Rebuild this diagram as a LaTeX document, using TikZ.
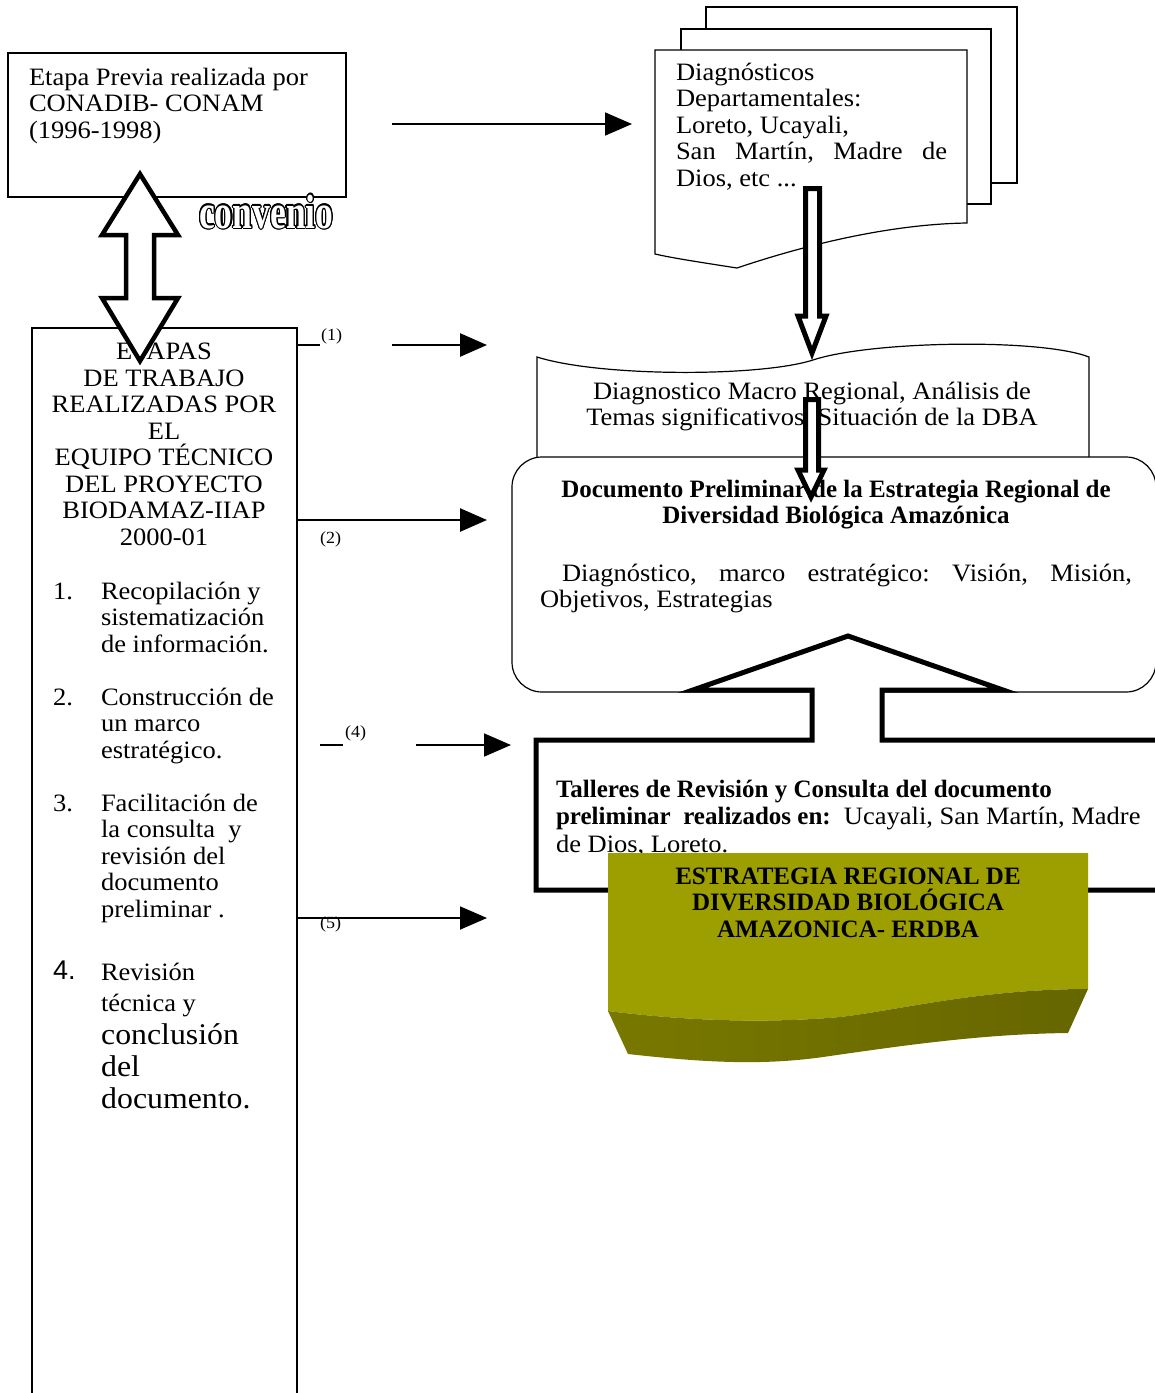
\documentclass[tikz,border=0pt]{standalone}
\usepackage{fontspec}
\setmainfont{Liberation Serif}[FakeStretch=1.06]
\newfontfamily\bfam{Liberation Serif}
\newfontfamily\sfam{Liberation Sans}
\newfontfamily\convfam{Liberation Serif}[FakeStretch=0.74]
\usepackage{contour}
\contourlength{1.2pt}
\usetikzlibrary{arrows.meta}
\definecolor{oliveface}{RGB}{157,159,0}
\definecolor{oliveleft}{RGB}{120,120,0}
\definecolor{olivemid}{RGB}{155,157,0}
\definecolor{oliveright}{RGB}{102,102,0}
\frenchspacing
\begin{document}
\frenchspacing
\begin{tikzpicture}[x=1pt,y=-1pt,
  txt/.style={inner sep=0pt, outer sep=0pt, font=\fontsize{25}{26.5}\selectfont},
  btxt/.style={inner sep=0pt, outer sep=0pt, font=\bfam\bfseries\fontsize{25}{26.5}\selectfont},
  lab/.style={inner sep=0pt, outer sep=0pt, font=\fontsize{17}{19}\selectfont},
  thinbox/.style={draw=black, line width=1.2pt},
  conn/.style={line width=2.6pt, -{Triangle[length=27pt,width=23pt]}},
  connthin/.style={line width=1.8pt, -{Triangle[length=27pt,width=23pt]}},
  stub/.style={line width=2.2pt},
  hollow/.style={draw=black, fill=white, line width=4.5pt, line join=miter, miter limit=10},
]
\useasboundingbox (0,0) rectangle (1155,1393);

% ---------- Etapa previa box (multi-line nodes: base = last line)
\draw[thinbox] (8,53) rectangle (346,197);
\node[txt, align=left, anchor=base west] (previa) at (29,138)
  {Etapa Previa realizada por\\CONADIB- CONAM\\(1996-1998)};

% ---------- Left column box
\coordinate (colTL) at (32,328);
\coordinate (colTR) at (297,328);
\draw[thinbox] (32,1400) -- (colTL) -- (colTR) -- (297,1400);
\node[txt, align=center, anchor=base] (hdr) at (164,545)
  {ETAPAS\\DE TRABAJO\\REALIZADAS POR\\EL\\EQUIPO TÉCNICO\\DEL PROYECTO\\BIODAMAZ-IIAP\\2000-01};
\node[txt, anchor=base west] (n1) at (53,599) {1.};
\node[txt, align=left, anchor=base west] (i1) at (101,652)
  {Recopilación y\\sistematización\\de información.};
\node[txt, anchor=base west] (n2) at (53,705) {2.};
\node[txt, align=left, anchor=base west] (i2) at (101,758)
  {Construcción de\\un marco\\estratégico.};
\node[txt, anchor=base west] (n3) at (53,811) {3.};
\node[txt, align=left, anchor=base west] (i3) at (101,917)
  {Facilitación de\\la consulta\ \ y\\revisión del\\documento\\preliminar .};
\node[inner sep=0pt, anchor=base west, font=\sfam\fontsize{27}{28}\selectfont] (n4) at (53,979) {4.};
\node[txt, anchor=base west] (i4a) at (101,980) {Revisión};
\node[txt, anchor=base west] (i4b) at (101,1011) {técnica y};
\node[inner sep=0pt, align=left, anchor=base west, font=\fontsize{30}{32}\selectfont] (i4c) at (101,1108)
  {conclusión\\del\\documento.};

% ---------- Document stack
\draw[thinbox, fill=white] (706,7) rectangle (1017,183);
\draw[thinbox, fill=white] (681,29) rectangle (991,204);
\draw[thinbox, fill=white] (655,50) -- (967,50) -- (967,223)
  .. controls (900,224) and (820,240) .. (737,268)
  .. controls (705,263) and (672,258) .. (655,254) -- cycle;
\node[txt, align=left, anchor=base west] (diag) at (676,186)
  {Diagnósticos\\Departamentales:\\Loreto, Ucayali,\\\makebox[271pt][s]{San Martín, Madre de}\\Dios, etc ...};

% ---------- Banner
\draw[thinbox, fill=white] (537,462) -- (537,357)
  .. controls (600,377) and (760,377) .. (813,360)
  .. controls (870,341) and (1040,338) .. (1089,357) -- (1089,462);
\node[txt, align=center, anchor=base] (macro) at (812,425.5)
  {Diagnostico Macro Regional, Análisis de\\Temas significativos, Situación de la DBA};

% ---------- Rounded box
\draw[thinbox, fill=white, rounded corners=30pt] (512,457) rectangle (1156,692);
\node[btxt, align=center, anchor=base] (prel) at (836,523.5)
  {Documento Preliminar de la Estrategia Regional de\\Diversidad Biológica Amazónica};
\node[txt, anchor=base west] (prel2) at (562,581)
  {\makebox[570pt][s]{Diagnóstico, marco estratégico: Visión, Misión,}};
\node[txt, anchor=base west] (prel3) at (540,607) {Objetivos, Estrategias};

% ---------- Talleres callout with up arrow
\draw[draw=black, fill=white, line width=5pt, line join=miter]
  (536,740) -- (812,740) -- (812,690) -- (693,690) -- (848,636) -- (1003,690)
  -- (882,690) -- (882,740) -- (1175,740) -- (1175,890) -- (536,890) -- cycle;
\node[btxt, anchor=base west] (tal1) at (556,797)
  {Talleres de Revisión y Consulta del documento};
\node[txt, anchor=base west] (tal2) at (556,824)
  {{\bfam\bfseries preliminar\ \ realizados en:}\ \ Ucayali, San Martín, Madre};
\node[txt, anchor=base west] (tal3) at (556,852) {de Dios, Loreto.};

% ---------- Olive final block
\fill[oliveface] (608,853) -- (1088,853) -- (1088,989)
  .. controls (980,989) and (900,1010) .. (840,1017)
  .. controls (760,1024) and (680,1020) .. (608,1011) -- cycle;
\shade[left color=oliveleft, middle color=olivemid, right color=oliveright]
  (608,1011) .. controls (680,1020) and (760,1024) .. (840,1017)
  .. controls (900,1010) and (980,989) .. (1088,989)
  -- (1068,1033) .. controls (980,1034) and (900,1046) .. (823,1057)
  .. controls (760,1066) and (700,1062) .. (628,1054) -- cycle;
\node[btxt, align=center, anchor=base] (erdba) at (848,937)
  {ESTRATEGIA REGIONAL DE\\DIVERSIDAD BIOLÓGICA\\AMAZONICA- ERDBA};

% ---------- Narrow hollow arrows
\draw[hollow, line width=5pt] (805.5,188.5) -- (819.5,188.5) -- (819.5,316) -- (826,316)
  -- (812,353) -- (798,316) -- (805.5,316) -- cycle;
\draw[hollow, line width=5pt] (805.5,399.5) -- (818.5,399.5) -- (818.5,470) -- (824,470)
  -- (811,497) -- (798,470) -- (805.5,470) -- cycle;

% ---------- Convenio double arrow
\draw[hollow] (140,174) -- (178,235) -- (154,235) -- (154,298) -- (178,298)
  -- (140,361) -- (102,298) -- (126,298) -- (126,235) -- (102,235) -- cycle;
\node[inner sep=0pt, anchor=base west, font=\convfam\bfseries\fontsize{48}{50}\selectfont] (conv) at (199,228)
  {\contour{black}{\textcolor{white}{convenio}}};

% ---------- Connectors
\coordinate (t1) at (392,124);
\coordinate (t2) at (632,124);
\draw[connthin] (t1) -- (t2);

\coordinate (s1a) at (297,345);
\coordinate (s1b) at (320,345);
\draw[stub] (s1a) -- (s1b);
\node[lab, anchor=base west] (l1) at (321,340) {(1)};
\coordinate (a1s) at (392,345);
\coordinate (a1e) at (487,345);
\draw[conn] (a1s) -- (a1e);

\coordinate (a2s) at (297,520);
\coordinate (a2e) at (487,520);
\draw[conn] (a2s) -- (a2e);
\node[lab, anchor=base west] (l2) at (320,543) {(2)};

\coordinate (s4a) at (320,745);
\coordinate (s4b) at (343,745);
\draw[stub, line width=1.8pt] (s4a) -- (s4b);
\node[lab, anchor=base west] (l4) at (345,737) {(4)};
\coordinate (a4s) at (416,745);
\coordinate (a4e) at (511,745);
\draw[connthin] (a4s) -- (a4e);

\node[lab, anchor=base west] (l5) at (320,928) {(5)};
\coordinate (a5s) at (297,918);
\coordinate (a5e) at (487,918);
\draw[connthin] (a5s) -- (a5e);
\end{tikzpicture}
\end{document}
